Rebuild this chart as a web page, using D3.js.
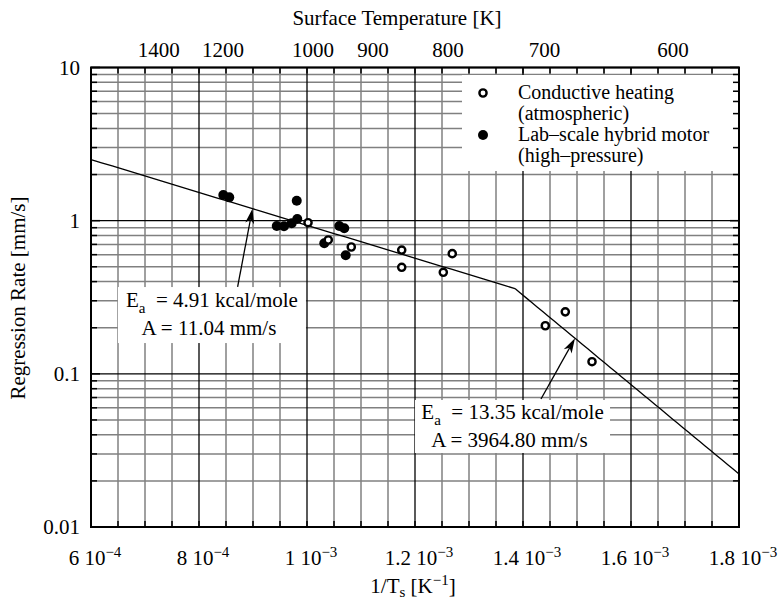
<!DOCTYPE html>
<html>
<head>
<meta charset="utf-8">
<script src="https://cdn.jsdelivr.net/npm/d3@7"></script>
<style>
  body { margin: 0; background: #fff; }
  svg text { font-family: "Liberation Serif", "Times New Roman", serif; fill: #000; }
</style>
</head>
<body>
<svg id="chart" width="781" height="602"></svg>
<script>
// Inverse surface temperature [1/K] and regression rate [mm/s]
const conductiveInvT = [1.0019e-3, 1.0394e-3, 1.082e-3, 1.1754e-3, 1.1754e-3, 1.2524e-3, 1.269e-3, 1.4413e-3, 1.4783e-3, 1.5278e-3];
const conductiveRate = [0.97, 0.748, 0.673, 0.643, 0.496, 0.460, 0.609, 0.206, 0.254, 0.120];
const motorInvT = [8.45e-4, 8.56e-4, 9.81e-4, 9.44e-4, 9.574e-4, 9.717e-4, 9.82e-4, 1.032e-3, 1.0598e-3, 1.069e-3, 1.0717e-3];
const motorRate = [1.47, 1.42, 1.35, 0.923, 0.92, 0.961, 1.025, 0.712, 0.923, 0.892, 0.594];

// Arrhenius fits: rate = A * exp(-Ea / (R * Ts)), plotted against 1/Ts
const fitEa = [4.91, 13.35];          // kcal/mole
const fitA = [11.04, 3964.80];        // mm/s
const gasR = 1.987e-3;                // kcal/(mole K)

const xTickValues = [6e-4, 8e-4, 1e-3, 1.2e-3, 1.4e-3, 1.6e-3, 1.8e-3];
const xTickMantissa = ["6", "8", "1", "1.2", "1.4", "1.6", "1.8"];
const xTickExponent = ["−4", "−4", "−3", "−3", "−3", "−3", "−3"];
const yTickValues = [0.01, 0.1, 1, 10];
const yTickLabels = ["0.01", "0.1", "1", "10"];
const topTemperatures = [1400, 1200, 1000, 900, 800, 700, 600];

const legendLabels = [["Conductive heating", "(atmospheric)"], ["Lab–scale hybrid motor", "(high–pressure)"]];
const fitLabelEa = ["4.91 kcal/mole", "13.35 kcal/mole"];
const fitLabelA = ["A = 11.04 mm/s", "A = 3964.80 mm/s"];
// annotation anchors: label centre, arrow tail, arrow head (on the fit)
const labelInvT = [8.24e-4, 1.3806e-3];
const labelRate = [0.242, 0.0453];
const arrowTailInvT = [8.715e-4, 1.4333e-3];
const arrowTailRate = [0.369, 0.0685];
const arrowHeadInvT = [8.99e-4, 1.4963e-3];

const svg = d3.select("#chart");
const plotL = 91, plotR = 739, plotT = 67.5, plotB = 527;
const fs = 21, fsSmall = 15, fsLegend = 20;

const x = d3.scaleLinear().domain([6e-4, 1.8e-3]).range([plotL, plotR]);
const y = d3.scaleLog().domain([0.01, 10]).range([plotB, plotT]);

// invT is 1/Ts
const fit = (i, invT) => fitA[i] * Math.exp(-fitEa[i] / gasR * invT);

// grid values
const xGrid = d3.range(0, 25).map(i => 6e-4 + i * 0.5e-4);
const xMajor = v => Math.abs(Math.round(v / 2e-4) * 2e-4 - v) < 1e-9;
const yGrid = [];
[0.01, 0.1, 1].forEach(d => { for (let k = 1; k <= 9; k++) yGrid.push(d * k); });
yGrid.push(10);
const yMajor = v => Math.abs(Math.log10(v) - Math.round(Math.log10(v))) < 1e-6;

const grid = svg.append("g");
grid.selectAll("line.vg").data(xGrid.filter(v => !xMajor(v))).join("line")
  .attr("x1", d => x(d)).attr("x2", d => x(d)).attr("y1", plotT).attr("y2", plotB)
  .attr("stroke", "#808080").attr("stroke-width", 1.5);
grid.selectAll("line.hg").data(yGrid.filter(v => !yMajor(v))).join("line")
  .attr("y1", d => y(d)).attr("y2", d => y(d)).attr("x1", plotL).attr("x2", plotR)
  .attr("stroke", "#808080").attr("stroke-width", 1.5);
grid.selectAll("line.vm").data(xGrid.filter(xMajor)).join("line")
  .attr("x1", d => x(d)).attr("x2", d => x(d)).attr("y1", plotT).attr("y2", plotB)
  .attr("stroke", "#000").attr("stroke-width", 1.3);
grid.selectAll("line.hm").data(yGrid.filter(yMajor)).join("line")
  .attr("y1", d => y(d)).attr("y2", d => y(d)).attr("x1", plotL).attr("x2", plotR)
  .attr("stroke", "#000").attr("stroke-width", 1.3);

// white boxes behind legend and annotation labels
svg.append("rect").attr("x", 462).attr("y", 75).attr("width", plotR - 462).attr("height", 96).attr("fill", "#fff");
const boxW = [188, 195], boxH = [56, 53];
labelInvT.forEach((v, i) => {
  svg.append("rect")
    .attr("x", x(v) - boxW[i] / 2).attr("y", y(labelRate[i]) - boxH[i] / 2)
    .attr("width", boxW[i]).attr("height", boxH[i]).attr("fill", "#fff");
});

// axes frame and inward ticks
const axes = svg.append("g");
axes.append("rect").attr("x", plotL).attr("y", plotT).attr("width", plotR - plotL).attr("height", plotB - plotT)
  .attr("fill", "none").attr("stroke", "#000").attr("stroke-width", 2);
const tickLen = v => yMajor(v) ? 9 : 6;
axes.selectAll("line.yl").data(yGrid).join("line")
  .attr("x1", plotL).attr("x2", d => plotL + tickLen(d)).attr("y1", d => y(d)).attr("y2", d => y(d))
  .attr("stroke", "#000").attr("stroke-width", 1.5);
axes.selectAll("line.yr").data(yGrid).join("line")
  .attr("x1", plotR).attr("x2", d => plotR - tickLen(d)).attr("y1", d => y(d)).attr("y2", d => y(d))
  .attr("stroke", "#000").attr("stroke-width", 1.5);
axes.selectAll("line.xt").data(xGrid).join("line")
  .attr("x1", d => x(d)).attr("x2", d => x(d)).attr("y1", plotT).attr("y2", plotT + 6)
  .attr("stroke", "#000").attr("stroke-width", 1.5);
axes.selectAll("line.xb").data(xGrid).join("line")
  .attr("x1", d => x(d)).attr("x2", d => x(d)).attr("y1", plotB).attr("y2", plotB - 6)
  .attr("stroke", "#000").attr("stroke-width", 1.5);

// y tick labels
axes.selectAll("text.yl").data(yTickValues).join("text")
  .attr("x", plotL - 11).attr("y", d => y(d) + 7)
  .attr("text-anchor", "end").attr("font-size", fs)
  .text((d, i) => yTickLabels[i]);

// x tick labels with power-of-ten superscripts
const xl = axes.selectAll("text.xl").data(xTickValues).join("text")
  .attr("x", d => x(d) + 4).attr("y", 565)
  .attr("text-anchor", "middle").attr("font-size", fs);
xl.append("tspan").text((d, i) => xTickMantissa[i] + " 10");
xl.append("tspan").attr("dy", -8).attr("font-size", fsSmall).text((d, i) => xTickExponent[i]);

// top temperature labels, placed at 1/T on the bottom scale
axes.selectAll("text.tl").data(topTemperatures).join("text")
  .attr("x", d => x(1 / d) + 6).attr("y", 57)
  .attr("text-anchor", "middle").attr("font-size", fs)
  .text(d => d);

// titles
svg.append("text").attr("x", 397).attr("y", 25).attr("text-anchor", "middle").attr("font-size", fs)
  .text("Surface Temperature [K]");
const xt = svg.append("text").attr("x", 413).attr("y", 593).attr("text-anchor", "middle").attr("font-size", fs);
xt.append("tspan").text("1/T");
xt.append("tspan").attr("font-size", fsSmall).attr("dy", 4).text("s");
xt.append("tspan").attr("dy", -4).text(" [K");
xt.append("tspan").attr("font-size", fsSmall).attr("dy", -8).text("−1");
xt.append("tspan").attr("dy", 8).text("]");
svg.append("text").attr("transform", "translate(25,298) rotate(-90)")
  .attr("text-anchor", "middle").attr("font-size", fs).text("Regression Rate [mm/s]");

// fitted Arrhenius lines, joined where they intersect
const xCross = Math.log(fitA[1] / fitA[0]) / ((fitEa[1] - fitEa[0]) / gasR);
const fitSegments = [[6e-4, xCross], [xCross, 1.8e-3]];
fitSegments.forEach((seg, i) => {
  const pts = d3.range(0, 41).map(k => seg[0] + (seg[1] - seg[0]) * k / 40);
  svg.append("path")
    .attr("d", d3.line().x(d => x(d)).y(d => y(fit(i, d)))(pts))
    .attr("fill", "none").attr("stroke", "#000").attr("stroke-width", 1.3);
});

// arrows from the labels to the fits
arrowTailInvT.forEach((v, i) => {
  const x0 = x(v), y0 = y(arrowTailRate[i]);
  const x1 = x(arrowHeadInvT[i]), y1 = y(fit(i, arrowHeadInvT[i]));
  const ang = Math.atan2(y1 - y0, x1 - x0);
  const L = 15, W = 4.5, N = 11;
  const ux = Math.cos(ang), uy = Math.sin(ang), px = -uy, py = ux;
  svg.append("line").attr("x1", x0).attr("y1", y0)
    .attr("x2", x1 - ux * N).attr("y2", y1 - uy * N)
    .attr("stroke", "#000").attr("stroke-width", 1.3);
  const head = [
    [x1, y1],
    [x1 - ux * L + px * W, y1 - uy * L + py * W],
    [x1 - ux * N, y1 - uy * N],
    [x1 - ux * L - px * W, y1 - uy * L - py * W]
  ];
  svg.append("path").attr("d", "M" + head.map(p => p.join(",")).join("L") + "Z").attr("fill", "#000");
});

// annotation text
labelInvT.forEach((v, i) => {
  const cx = x(v), cy = y(labelRate[i]);
  const t1 = svg.append("text").attr("x", cx).attr("y", cy - 8).attr("text-anchor", "middle").attr("font-size", fs)
    .attr("xml:space", "preserve");
  t1.append("tspan").text("E");
  t1.append("tspan").attr("font-size", fsSmall).attr("dy", 6).text("a");
  t1.append("tspan").attr("dy", -6).text("  = " + fitLabelEa[i]);
  svg.append("text").attr("x", cx - 3).attr("y", cy + 20).attr("text-anchor", "middle").attr("font-size", fs)
    .text(fitLabelA[i]);
});

// data points
svg.append("g").selectAll("circle").data(motorInvT).join("circle")
  .attr("cx", d => x(d)).attr("cy", (d, i) => y(motorRate[i])).attr("r", 5)
  .attr("fill", "#000");
svg.append("g").selectAll("circle").data(conductiveInvT).join("circle")
  .attr("cx", d => x(d)).attr("cy", (d, i) => y(conductiveRate[i])).attr("r", 3.6)
  .attr("fill", "#fff").attr("stroke", "#000").attr("stroke-width", 2.4);

// legend
const lg = svg.append("g").attr("transform", "translate(483,0)");
lg.append("circle").attr("cx", 0).attr("cy", 93).attr("r", 3.6).attr("fill", "#fff").attr("stroke", "#000").attr("stroke-width", 2.4);
lg.append("circle").attr("cx", 0).attr("cy", 135).attr("r", 5).attr("fill", "#000");
legendLabels.forEach((pair, i) => {
  pair.forEach((s, j) => {
    lg.append("text").attr("x", 35).attr("y", 99 + i * 42 + j * 21).attr("font-size", fsLegend).text(s);
  });
});
</script>
</body>
</html>
